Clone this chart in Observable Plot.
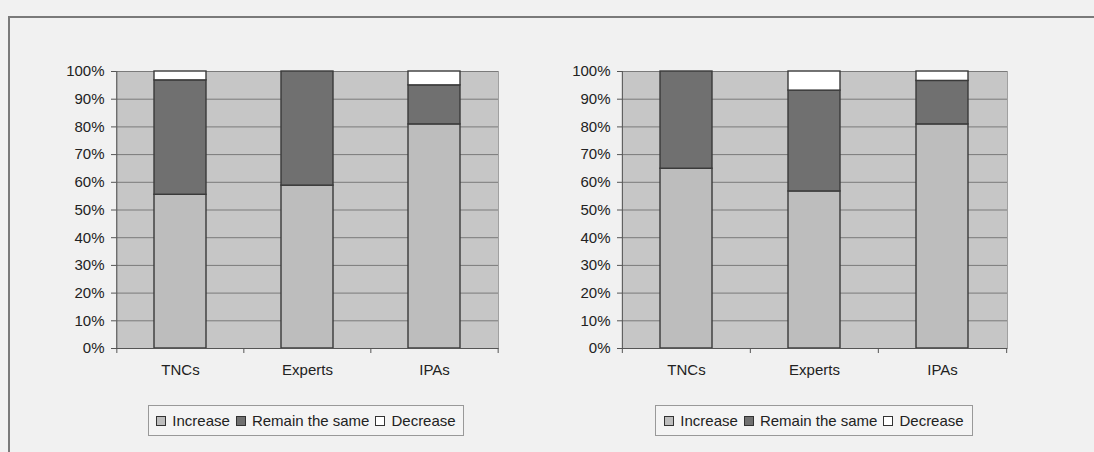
<!DOCTYPE html>
<html>
<head>
<meta charset="utf-8">
<script src="https://cdn.jsdelivr.net/npm/d3@7"></script>
<script src="https://cdn.jsdelivr.net/npm/@observablehq/plot@0.6"></script>
<style>
  html, body { margin: 0; padding: 0; background: #f1f1f1; }
  body { width: 1094px; height: 452px; position: relative; overflow: hidden; font-family: "Liberation Sans", Arial, sans-serif; }
  #frame { position: absolute; left: 8px; top: 16px; width: 1100px; height: 450px; border-left: 2px solid #7a7a7a; border-top: 2px solid #7a7a7a; box-sizing: border-box; }
  .chart { position: absolute; top: 0; }
  .legend { position: absolute; top: 405px; height: 31px; box-sizing: border-box; border: 1px solid #999; background: #f4f4f4; display: flex; align-items: center; justify-content: center; font-size: 15px; color: #222; white-space: nowrap; }
  .legend .item { display: flex; align-items: center; margin: 0 3px; }
  .legend .sw { width: 8px; height: 8px; border: 1px solid #333; margin-right: 6px; }
</style>
</head>
<body>
<div id="frame"></div>
<script>
const categories = ["TNCs", "Experts", "IPAs"];
const seriesNames = ["Increase", "Remain the same", "Decrease"];
const seriesColors = ["#bdbdbd", "#707070", "#ffffff"];
// Chart 1 (left), percentages
const left_increase = [55.5, 58.8, 80.9];
const left_remain = [41.3, 41.2, 14.1];
const left_decrease = [3.2, 0, 5.0];
// Chart 2 (right), percentages
const right_increase = [64.9, 56.7, 80.9];
const right_remain = [35.1, 36.4, 15.7];
const right_decrease = [0, 6.9, 3.4];
const yTicks = [0, 10, 20, 30, 40, 50, 60, 70, 80, 90, 100];

function buildRows(inc, rem, dec) {
  const rows = [];
  categories.forEach((c, i) => {
    rows.push({cat: c, series: seriesNames[0], value: inc[i]});
    rows.push({cat: c, series: seriesNames[1], value: rem[i]});
    rows.push({cat: c, series: seriesNames[2], value: dec[i]});
  });
  return rows;
}

function makeChart(rows, left, marginLeft, marginRight, legendLeft, legendWidth) {
  const width = 550, height = 390, marginTop = 71, marginBottom = 42;
  const step = (width - marginLeft - marginRight) / categories.length;
  const chart = Plot.plot({
    width, height, marginTop, marginBottom, marginLeft, marginRight,
    style: {background: "transparent", fontFamily: "Liberation Sans, Arial, sans-serif", fontSize: "15px", color: "#222"},
    x: {domain: categories, paddingInner: 0.59, paddingOuter: 0.295, label: null},
    y: {domain: [0, 100], label: null},
    color: {domain: seriesNames, range: seriesColors},
    marks: [
      Plot.frame({fill: "#c6c6c6", stroke: "#a0a0a0"}),
      Plot.gridY(yTicks, {stroke: "#7a7a7a", strokeOpacity: 1, strokeWidth: 1}),
      Plot.barY(rows, {x: "cat", y: "value", fill: "series", stroke: "#3a3a3a", strokeWidth: 1.4, order: seriesNames}),
      Plot.ruleX([0], {x: () => categories[0], dx: -step / 2, stroke: "#555"}),
      Plot.ruleY([0], {stroke: "#555"}),
      Plot.axisY(yTicks, {tickFormat: d => d + "%", tickSize: 5, tickPadding: 7, stroke: "#555", fontSize: 15, fill: "#222"}),
      Plot.axisX({tickSize: 0, tickPadding: 16, fontSize: 15, fill: "#222"}),
      Plot.ruleX(categories, {x: d => d, y1: 0, y2: 0, insetBottom: -5, dx: -step / 2, stroke: "#555"}),
      Plot.ruleX([categories[categories.length - 1]], {x: d => d, y1: 0, y2: 0, insetBottom: -5, dx: step / 2, stroke: "#555"})
    ]
  });
  chart.classList.add("chart");
  chart.style.left = left + "px";
  document.body.appendChild(chart);

  const lg = document.createElement("div");
  lg.className = "legend";
  lg.style.left = legendLeft + "px";
  lg.style.width = legendWidth + "px";
  seriesNames.forEach((s, i) => {
    const it = document.createElement("div");
    it.className = "item";
    const sw = document.createElement("div");
    sw.className = "sw";
    sw.style.background = seriesColors[i];
    const tx = document.createElement("span");
    tx.textContent = s;
    it.appendChild(sw); it.appendChild(tx);
    lg.appendChild(it);
  });
  document.body.appendChild(lg);
}

makeChart(buildRows(left_increase, left_remain, left_decrease), 0, 116, 52, 148, 316);
makeChart(buildRows(right_increase, right_remain, right_decrease), 544, 78, 87, 655, 318);
</script>
</body>
</html>
